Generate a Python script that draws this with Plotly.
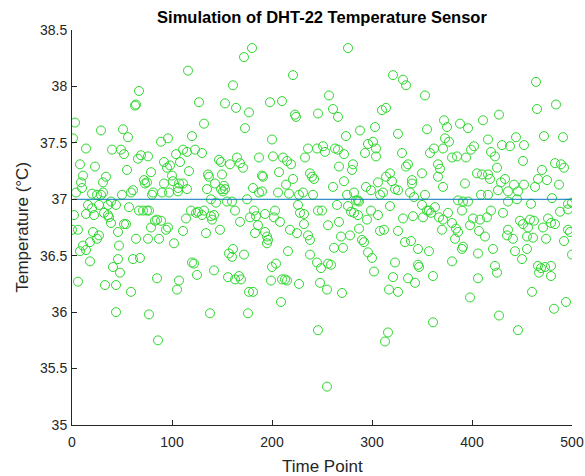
import plotly.graph_objects as go

# ---- data (time point, temperature in °C) ----
time_points = [
    67, 63, 64, 3, 29, 51, 56, 1, 14, 40, 49, 52, 69, 66, 8, 23, 55, 11, 34, 9, 31, 10, 72, 73, 4, 20, 25, 29, 31, 50,
    59, 61, 39, 16, 20, 27, 36, 44, 57, 67, 71, 2, 14, 22, 32, 36, 37, 39, 52, 54, 0, 6, 21, 46, 27, 64, 18, 25, 11, 8,
    14, 47, 18, 46, 61, 68, 41, 48, 6, 33, 44, 59, 44,
    116, 127, 153, 132, 89, 96, 120, 76, 104, 111, 115, 123, 130, 92, 98, 108, 147, 149, 79, 95, 100, 117, 136, 137, 150, 75,
    92, 101, 107, 111, 106, 143, 152, 149, 153, 151, 135, 81, 80, 90, 97, 106, 115, 139, 144, 155, 75, 77, 119, 124, 126, 130,
    132, 139, 142, 83, 85, 89, 114, 140, 79, 94, 96, 111, 148, 134, 76, 87, 102, 157, 120, 122, 125, 142, 156, 85, 107, 105,
    77, 138, 86, 158,
    180, 172, 221, 161, 198, 210, 223, 224, 164, 177, 173, 200, 236, 165, 168, 171, 187, 201, 211, 215, 219, 233, 190, 191, 207,
    221, 214, 238, 240, 242, 181, 187, 190, 206, 217, 227, 231, 241, 175, 160, 163, 168, 182, 184, 193, 203, 208, 202, 178, 226,
    228, 232, 183, 186, 232, 218, 225, 193, 195, 196, 195, 236, 238, 161, 160, 172, 216, 238, 200, 204, 167, 169, 163, 177, 181,
    199, 210, 213, 215, 227, 209, 176,
    276, 321, 257, 246, 261, 266, 310, 314, 288, 303, 274, 326, 251, 253, 245, 263, 266, 272, 281, 280, 293, 296, 301, 304, 304,
    267, 272, 261, 294, 299, 306, 314, 318, 320, 323, 326, 311, 308, 275, 282, 284, 287, 286, 246, 250, 265, 276, 279, 282, 286,
    299, 306, 318, 256, 267, 287, 295, 326, 269, 278, 290, 292, 308, 312, 262, 271, 296, 300, 323, 245, 249, 256, 259, 302, 321,
    248, 255, 270, 317, 326, 246, 316, 313, 255,
    331, 334, 353, 372, 411, 355, 375, 388, 396, 373, 377, 362, 358, 371, 402, 399, 380, 385, 394, 330, 334, 336, 350, 366, 368,
    366, 371, 405, 410, 393, 340, 340, 338, 353, 342, 409, 350, 355, 357, 359, 363, 367, 371, 376, 386, 391, 396, 390, 331, 341,
    351, 380, 384, 386, 383, 401, 408, 398, 407, 413, 370, 339, 333, 346, 357, 390, 391, 406, 346, 347, 380, 336, 343, 361, 406,
    398, 361,
    464, 465, 484, 427, 416, 430, 438, 444, 452, 472, 491, 419, 423, 451, 425, 416, 418, 483, 489, 492, 487, 433, 429, 436, 442,
    452, 446, 470, 466, 475, 463, 416, 426, 436, 445, 459, 480, 496, 500, 419, 431, 496, 488, 415, 448, 451, 458, 462, 476, 479,
    483, 456, 471, 496, 498, 435, 436, 441, 455, 461, 474, 492, 421, 443, 450, 455, 500, 423, 425, 466, 469, 473, 479, 467, 479,
    460, 494, 482, 427, 446,
]

temperatures = [
    37.96, 37.83, 37.84, 37.68, 37.61, 37.62, 37.55, 37.54, 37.45, 37.44, 37.44, 37.40, 37.39, 37.36, 37.31, 37.29, 37.26, 37.21, 37.20, 37.15, 37.15, 37.10, 37.17, 37.14, 37.06, 37.05, 37.04, 37.04, 37.06, 37.04,
    37.06, 37.08, 36.98, 36.95, 36.92, 36.95, 36.95, 36.95, 36.93, 36.90, 36.90, 36.86, 36.87, 36.86, 36.88, 36.86, 36.84, 36.79, 36.78, 36.78, 36.73, 36.73, 36.71, 36.71, 36.68, 36.65, 36.62, 36.65, 36.59, 36.54,
    36.55, 36.59, 36.45, 36.47, 36.47, 36.48, 36.40, 36.35, 36.27, 36.24, 36.24, 36.18, 36.00,
    38.14, 37.86, 37.85, 37.67, 37.51, 37.54, 37.56, 37.38, 37.40, 37.44, 37.42, 37.44, 37.41, 37.33, 37.30, 37.33, 37.35, 37.33, 37.24, 37.28, 37.21, 37.25, 37.22, 37.20, 37.22, 37.15,
    37.14, 37.16, 37.14, 37.14, 37.10, 37.14, 37.12, 37.09, 37.09, 37.07, 37.09, 37.06, 37.04, 37.06, 37.06, 37.07, 37.09, 37.00, 36.97, 36.98, 36.90, 36.90, 36.90, 36.88, 36.89, 36.86,
    36.90, 36.85, 36.86, 36.81, 36.82, 36.81, 36.83, 36.82, 36.75, 36.73, 36.75, 36.72, 36.73, 36.70, 36.65, 36.65, 36.61, 36.52, 36.44, 36.43, 36.33, 36.37, 36.31, 36.30, 36.28, 36.20,
    35.98, 35.99, 35.75, 37.31,
    38.34, 38.26, 38.10, 38.01, 37.86, 37.87, 37.75, 37.73, 37.81, 37.77, 37.63, 37.53, 37.45, 37.37, 37.32, 37.28, 37.37, 37.38, 37.37, 37.34, 37.31, 37.37, 37.21, 37.20, 37.24,
    37.18, 37.13, 37.23, 37.20, 37.18, 37.10, 37.06, 37.07, 37.06, 37.05, 37.04, 37.06, 37.04, 37.00, 36.98, 36.90, 36.80, 36.90, 36.85, 36.87, 36.90, 36.80, 36.84, 36.84, 36.95,
    36.88, 36.87, 36.70, 36.77, 36.78, 36.73, 36.70, 36.71, 36.67, 36.64, 36.61, 36.68, 36.64, 36.56, 36.49, 36.51, 36.54, 36.51, 36.40, 36.43, 36.32, 36.29, 36.29, 36.18, 36.18,
    36.28, 36.29, 36.29, 36.28, 36.25, 36.09, 35.99,
    38.34, 38.10, 37.92, 37.76, 37.80, 37.73, 37.79, 37.81, 37.61, 37.64, 37.56, 37.58, 37.47, 37.42, 37.45, 37.45, 37.44, 37.40, 37.31, 37.26, 37.41, 37.49, 37.51, 37.45, 37.38,
    37.29, 37.16, 37.11, 37.11, 37.08, 37.15, 37.20, 37.23, 37.16, 37.09, 37.08, 37.06, 37.04, 37.04, 37.06, 36.99, 36.98, 36.99, 36.90, 36.90, 36.95, 36.94, 36.89, 36.88, 36.86,
    36.90, 36.86, 36.94, 36.77, 36.80, 36.74, 36.82, 36.72, 36.67, 36.68, 36.64, 36.62, 36.72, 36.73, 36.57, 36.57, 36.53, 36.48, 36.44, 36.44, 36.39, 36.43, 36.42, 36.36, 36.31,
    36.26, 36.20, 36.17, 36.20, 36.18, 35.84, 35.82, 35.74, 35.34,
    38.06, 38.01, 37.92, 37.70, 37.70, 37.62, 37.64, 37.67, 37.63, 37.54, 37.51, 37.45, 37.41, 37.45, 37.47, 37.44, 37.37, 37.38, 37.37, 37.41, 37.29, 37.31, 37.23, 37.31, 37.27,
    37.20, 37.11, 37.23, 37.22, 37.14, 37.17, 37.14, 37.06, 37.04, 37.02, 37.04, 36.95, 36.90, 36.90, 36.88, 36.93, 36.84, 36.82, 36.88, 36.99, 36.98, 36.98, 36.90, 36.83, 36.85,
    36.84, 36.79, 36.74, 36.71, 36.65, 36.83, 36.82, 36.77, 36.72, 36.67, 36.73, 36.63, 36.62, 36.56, 36.54, 36.56, 36.58, 36.52, 36.42, 36.40, 36.45, 36.30, 36.26, 36.32, 36.30,
    36.13, 35.91,
    38.04, 37.80, 37.84, 37.75, 37.53, 37.48, 37.47, 37.55, 37.48, 37.56, 37.55, 37.42, 37.38, 37.34, 37.28, 37.22, 37.18, 37.32, 37.31, 37.28, 37.13, 37.18, 37.15, 37.07, 37.13,
    37.13, 37.07, 37.26, 37.18, 37.17, 37.11, 37.04, 37.08, 36.98, 37.00, 36.96, 37.01, 36.96, 36.97, 36.90, 36.88, 36.91, 36.89, 36.84, 36.81, 36.78, 36.82, 36.81, 36.83, 36.79,
    36.78, 36.75, 36.75, 36.73, 36.71, 36.68, 36.73, 36.65, 36.67, 36.66, 36.65, 36.63, 36.56, 36.54, 36.47, 36.56, 36.51, 36.41, 36.35, 36.41, 36.39, 36.40, 36.41, 36.35, 36.32,
    36.18, 36.09, 36.03, 35.97, 35.84,
]

mean_line_x = [1, 500]
mean_line_y = [37, 37]

x_ticks = [0, 100, 200, 300, 400, 500]
y_ticks = [35, 35.5, 36, 36.5, 37, 37.5, 38, 38.5]

title_text = "Simulation of DHT-22 Temperature Sensor"
x_label = "Time Point"
y_label = "Temperature (°C)"

FONT = "Liberation Sans, Arial, Helvetica, sans-serif"
AX = "#262626"
W, H = 585, 476
L, R, T, B = 72, 13, 30, 51

fig = go.Figure()
fig.add_trace(go.Scatter(
    x=time_points, y=temperatures, mode="markers",
    marker=dict(symbol="circle-open", size=9, color="rgb(45,215,45)",
                line=dict(width=1, color="rgb(45,215,45)")),
    showlegend=False, hoverinfo="skip",
))
fig.add_trace(go.Scatter(
    x=mean_line_x, y=mean_line_y, mode="lines",
    line=dict(color="#0072BD", width=1), showlegend=False, hoverinfo="skip",
))

fig.update_layout(
    width=W, height=H,
    margin=dict(l=L, r=R, t=T, b=B),
    paper_bgcolor="white", plot_bgcolor="white",
    font=dict(family=FONT, color=AX, size=14),
    title=dict(text=f"<b>{title_text}</b>",
               x=(L + (W - L - R) / 2) / W, xanchor="center",
               y=1 - 17 / H, yanchor="middle", yref="container",
               font=dict(size=16.5, color="black")),
    annotations=[
        dict(text=x_label, x=0.5, y=0, xref="paper", yref="paper",
             xanchor="center", yanchor="middle", yshift=-41, showarrow=False,
             font=dict(size=17, color=AX)),
        dict(text=y_label, x=0, y=0.5, xref="paper", yref="paper",
             xanchor="center", yanchor="middle", xshift=-50, textangle=-90,
             showarrow=False, font=dict(size=17, color=AX)),
    ],
)
fig.update_xaxes(
    range=[0, 500], tickvals=x_ticks, ticks="inside", ticklen=5, tickcolor=AX,
    showline=True, linecolor=AX, linewidth=1, showgrid=False, zeroline=False,
    mirror=False, automargin=False, ticklabelstandoff=4,
    tickfont=dict(size=14),
)
fig.update_yaxes(
    range=[35, 38.5], tickvals=y_ticks, ticktext=[f"{v:g}" for v in y_ticks],
    ticks="inside", ticklen=5, tickcolor=AX,
    showline=True, linecolor=AX, linewidth=1, showgrid=False, zeroline=False,
    mirror=False, automargin=False, ticklabelstandoff=1,
    tickfont=dict(size=14),
)

fig.write_html(
    "out.html",
    config={"displayModeBar": False, "staticPlot": True},
    post_script="document.body.style.margin='0';document.body.style.overflow='hidden';",
)
